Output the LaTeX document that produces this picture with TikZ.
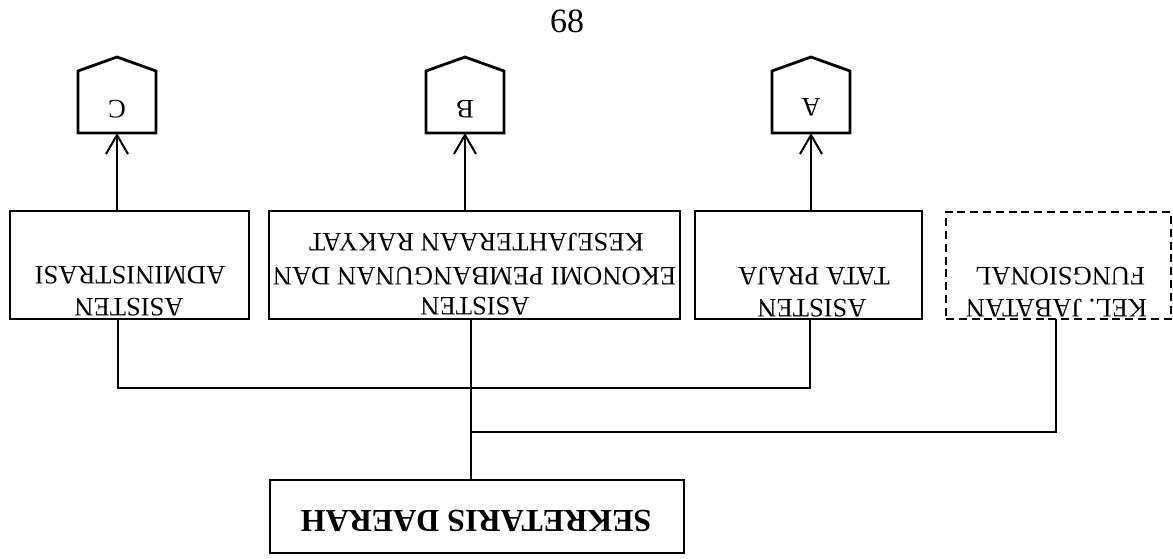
\documentclass[tikz,border=0pt]{standalone}
\usepackage{fontspec}
\setmainfont{Liberation Serif}
\usetikzlibrary{arrows.meta,calc}
\begin{document}
\begin{tikzpicture}[x=0.5pt,y=-0.5pt,
  every node/.style={inner sep=0pt, outer sep=0pt},
  box/.style={draw, line width=1pt, minimum height=54pt},
  dbox/.style={box, dash pattern=on 4pt off 2.4pt},
  house/.style={minimum width=39pt, minimum height=31pt},
  roof/.style={line width=1.4pt, line join=miter},
  lbl/.style={rotate=180, anchor=base, font=\fontsize{13.3}{16}\selectfont},
  conn/.style={line width=1pt},
  arr/.style={conn, -{Straight Barb[length=9.5pt,width=11pt,line width=1pt]}},
]
\fill[white] (0,0) rectangle (1173,558);
\useasboundingbox (0,0) rectangle (1173,558);

% page number
\node[font=\fontsize{17}{20}\selectfont, anchor=base] (pg) at (567,32) {68};

% houses (off-page connectors)
\node[house] (hC) at (117,102) {};
\node[house] (hB) at (465,102) {};
\node[house] (hA) at (811,102) {};
\foreach \h in {hC,hB,hA}{
  \draw[roof] (\h.south west) -- (\h.north west) -- ($(\h.north)+(0,-14)$)
    -- (\h.north east) -- (\h.south east) -- cycle;
}
\node[lbl] (lC) at (117,100) {C};
\node[lbl] (lB) at (465,100) {B};
\node[lbl] (lA) at (811,98) {A};

% boxes
\node[box, minimum width=119.5pt] (adm) at (129.5,265) {};
\node[box, minimum width=205.5pt] (eko) at (474.5,265) {};
\node[box, minimum width=113.5pt] (tp) at (808.5,265) {};
\node[dbox, minimum width=112.5pt, minimum height=53.5pt] (kel) at (1058.5,265.5) {};
\node[box, minimum width=207pt, minimum height=36.5pt] (sek) at (477,516.5) {};

% texts (upside down)
\node[lbl] (adm1) at (129,298) {ASISTEN};
\node[lbl] (adm2) at (130,266) {ADMINISTRASI};
\node[lbl] (eko1) at (475,297) {ASISTEN};
\node[lbl] (eko2) at (474.5,267) {EKONOMI PEMBANGUNAN DAN};
\node[lbl] (eko3) at (476.5,233) {KESEJAHTERAAN RAKYAT};
\node[lbl] (tp1) at (812,299) {ASISTEN};
\node[lbl] (tp2) at (814,267) {TATA PRAJA};
\node[lbl, anchor=base west] (kel1) at (1147,299) {KEL. JABATAN};
\node[lbl, anchor=base west] (kel2) at (1145,267) {FUNGSIONAL};
\node[lbl, font=\fontsize{16}{19}\selectfont\bfseries] (sek1) at (476,510) {SEKRETARIS DAERAH};

% arrows to houses
\draw[arr] (adm.north -| hC.south) -- (hC.south);
\draw[arr] (eko.north -| hB.south) -- (hB.south);
\draw[arr] (tp.north -| hA.south) -- (hA.south);

% lower connectors
\coordinate (j1) at (118,388);
\coordinate (j2) at (810,388);
\coordinate (j3) at (471,432);
\coordinate (j4) at (1056,432);
\draw[conn] (adm.south -| j1) -- (j1) -- (j2) -- (tp.south -| j2);
\draw[conn] (eko.south -| j3) -- (sek.north -| j3);
\draw[conn] (j3) -- (j4) -- (kel.south -| j4);
\end{tikzpicture}
\end{document}
